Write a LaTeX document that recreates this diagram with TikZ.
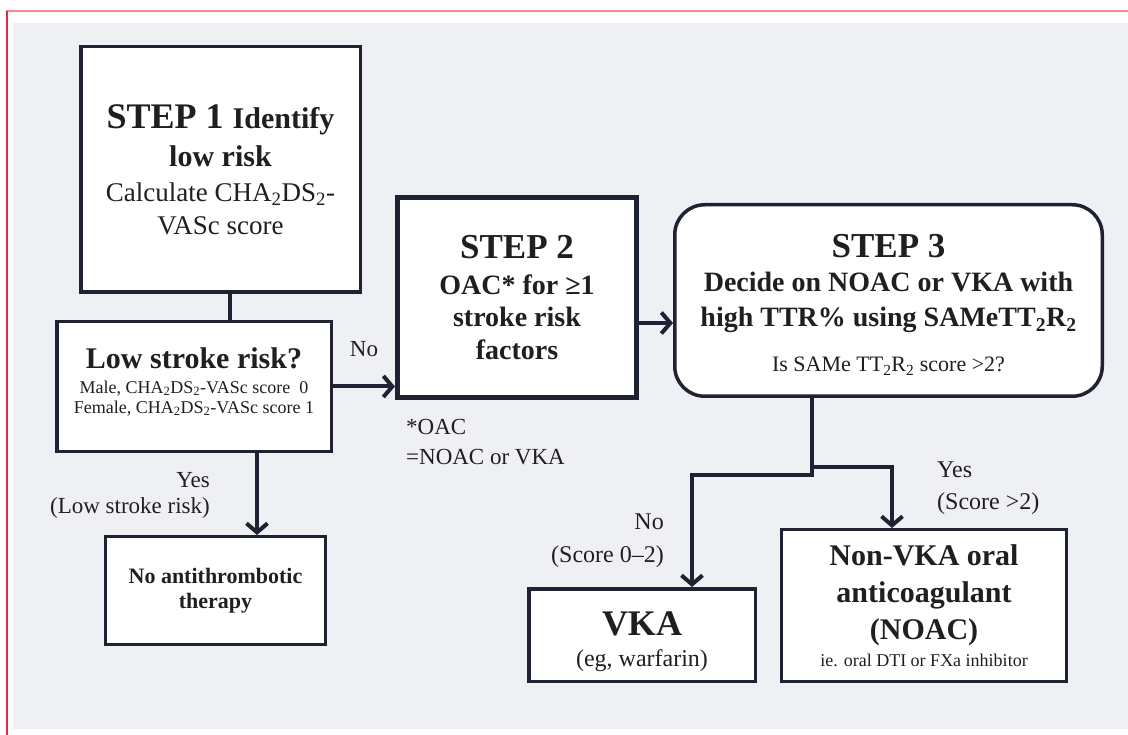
\documentclass[tikz,border=0pt]{standalone}
\usepackage{fontspec}
\setmainfont{Liberation Serif}
\usepackage{tikz}
\usetikzlibrary{arrows.meta}

\definecolor{ink}{HTML}{1E2233}
\definecolor{paper}{HTML}{EEF0F3}
\definecolor{frame}{HTML}{E8283F}
\newcommand{\fsz}[2]{\fontsize{#1}{#2}\selectfont}

\begin{document}
\begin{tikzpicture}[
  x=1pt, y=-1pt,
  box/.style={
    rectangle, draw=ink, line width=3.5pt, fill=white,
    text=black!88, align=center, inner sep=0pt
  },
  boldbox/.style={box, line width=5pt},
  roundbox/.style={box, rounded corners=30pt},
  link/.style={draw=ink, line width=4pt},
  arr/.style={link, -{Straight Barb[length=9pt, width=21pt]}},
  lbl/.style={text=black!88, inner sep=0pt, font=\fsz{23}{26}}
]

\useasboundingbox (0,0) rectangle (1128,735);
\fill[white] (0,0) rectangle (1128,735);
\fill[paper] (13,23) rectangle (1128,729);
\draw[frame!55, line width=2pt] (6,11) -- (1128,11);
\draw[frame, line width=2pt] (6.5,11) -- (6.5,735);

\node[box, font=\fsz{27}{33}, minimum width=279.5pt, minimum height=245.5pt] (step1) at (220.5,169.5)
  {{\bfseries\fsz{36}{40}STEP 1 \fsz{30}{40}Identify}\\[5pt]
   {\bfseries\fsz{30}{40}low risk}\\[2pt]
   Calculate CHA\textsubscript{2}DS\textsubscript{2}-\\VASc score};
\node[box, font=\fsz{18}{20}, minimum width=274.5pt, minimum height=129.5pt] (low) at (194,386.5)
  {{\bfseries\fsz{30}{34}Low stroke risk?}\\[5pt]
   Male, CHA\textsubscript{2}DS\textsubscript{2}-VASc score\ \ 0\\
   Female, CHA\textsubscript{2}DS\textsubscript{2}-VASc score 1\rule[-12pt]{0pt}{12pt}};
\node[boldbox, font=\fsz{28}{32}\bfseries, minimum width=239pt, minimum height=200pt] (step2) at (517,297.5)
  {{\fsz{35}{40}STEP 2}\\[4pt]OAC* for ≥1\\stroke risk\\[1pt]factors};
\node[roundbox, font=\fsz{28}{34}\bfseries, minimum width=427.5pt, minimum height=191.5pt] (step3) at (888.5,300.5)
  {{\fsz{35}{40}STEP 3}\rule{0pt}{32pt}\\Decide on NOAC or VKA with\\[1pt]
   high TTR\% using SAMeTT\textsubscript{2}R\textsubscript{2}\\[11pt]
   {\mdseries\fsz{22}{26}Is SAMe TT\textsubscript{2}R\textsubscript{2} score >2?}};
\node[box, font=\fsz{22}{25}\bfseries, line width=3pt, minimum width=220pt, minimum height=108pt] (noat) at (215.5,590.5)
  {No antithrombotic\\therapy};
\node[box, font=\fsz{24}{31}, minimum width=226.5pt, minimum height=92.5pt] (vka) at (642,635)
  {{\bfseries\fsz{36}{40}VKA}\rule{0pt}{38pt}\\(eg, warfarin)};
\node[box, font=\fsz{30}{27}\bfseries, line width=3pt, minimum width=285pt, minimum height=152pt] (noac) at (924,605.5)
  {Non-VKA oral\\[10pt]anticoagulant\\[9pt](NOAC)\\
   {\mdseries\fsz{18}{22}ie. oral DTI or FXa inhibitor}};

% connectors
\draw[link] ([xshift=9.5pt]step1.south) -- ([xshift=36pt]low.north);
\draw[arr] (low.east) -- node[lbl, above=28pt] {No} (low.east -| step2.west);
\draw[arr] ([yshift=-25.5pt]step2.east) -- ([yshift=-25.5pt]step2.east -| step3.west);
\draw[arr] ([xshift=63pt]low.south) -- ([xshift=63pt]low.south |- noat.north);
\coordinate (forkl) at (812,475);
\coordinate (forkr) at (812,467);
\draw[arr] ([xshift=-76.5pt]step3.south) -- (forkl) -| ([xshift=50pt]vka.north);
\draw[arr] (forkr) -| ([xshift=-32pt]noac.north);

% labels
\node[lbl, anchor=north east, align=right] (yeslow) at (210,472) {Yes\\(Low stroke risk)};
\node[lbl, anchor=north west, align=left, font=\fsz{23}{30}] (oacnote) at (406,419.5) {*OAC\\=NOAC or VKA};
\node[lbl, anchor=north east, align=right, font=\fsz{24}{33}] (novka) at (664,514) {No\\(Score 0--2)};
\node[lbl, anchor=north west, align=left, font=\fsz{24}{32}] (yesnoac) at (937,462) {Yes\\(Score >2)};

\end{tikzpicture}
\end{document}
